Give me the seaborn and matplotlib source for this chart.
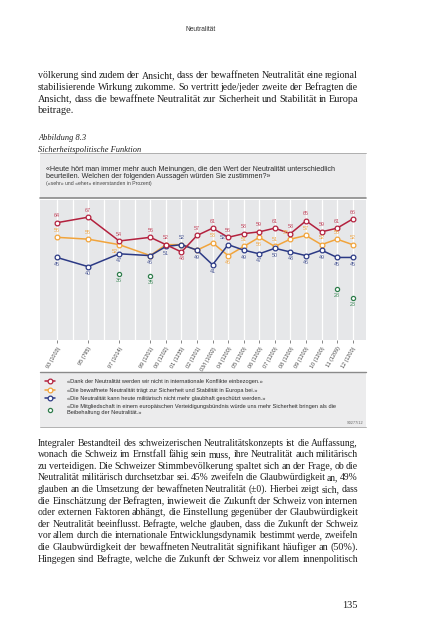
import numpy as np
import pandas as pd
import matplotlib
matplotlib.use("Agg")
import matplotlib.pyplot as plt
import seaborn as sns
from matplotlib.patches import Rectangle

# ---------------- data ----------------
years = [1993, 1995, 1997, 1999, 2000, 2001, 2002, 2003, 2004, 2005,
         2006, 2007, 2008, 2009, 2010, 2011, 2012]
tick_labels = ["93 (1003)", "95 (795)", "97 (1014)", "99 (1201)", "00 (1202)",
               "01 (1235)", "02 (1201)", "03/I (1002)", "04 (1200)", "05 (1200)",
               "06 (1200)", "07 (1200)", "08 (1200)", "09 (1200)", "10 (1200)",
               "11 (1209)", "12 (1200)"]
konflikte = [64, 67, 54, 56, 52, 48, 57, 61, 56, 58, 59, 61, 58, 65, 59, 61, 66]
sicherheit = [56, 55, 52, 46, 52, 52, 49, 53, 46, 51, 56, 51, 55, 57, 52, 55, 52]
nicht_glaubhaft = [45, 40, 47, 46, 51, 52, 49, 41, 52, 49, 47, 50, 48, 46, 49, 45, 45]
buendnis_years = [1997, 1999, 2011, 2012]
buendnis = [36, 35, 28, 23]

series_labels = [
    "«Dank der Neutralität werden wir nicht in internationale Konflikte einbezogen.»",
    "«Die bewaffnete Neutralität trägt zur Sicherheit und Stabilität in Europa bei.»",
    "«Die Neutralität kann heute militärisch nicht mehr glaubhaft geschützt werden.»",
    "«Die Mitgliedschaft in einem europäischen Verteidigungsbündnis würde uns mehr Sicherheit bringen als die\nBeibehaltung der Neutralität.»",
]

para1 = [
    "völkerung sind zudem der Ansicht, dass der bewaffneten Neutralität eine regional",
    "stabilisierende Wirkung zukomme. So vertritt jede/jeder zweite der Befragten die",
    "Ansicht, dass die bewaffnete Neutralität zur Sicherheit und Stabilität in Europa",
]
para1_last = "beitrage."
para2 = [
    "Integraler Bestandteil des schweizerischen Neutralitätskonzepts ist die Auffassung,",
    "wonach die Schweiz im Ernstfall fähig sein muss, ihre Neutralität auch militärisch",
    "zu verteidigen. Die Schweizer Stimmbevölkerung spaltet sich an der Frage, ob die",
    "Neutralität militärisch durchsetzbar sei. 45% zweifeln die Glaubwürdigkeit an, 49%",
    "glauben an die Umsetzung der bewaffneten Neutralität (±0). Hierbei zeigt sich, dass",
    "die Einschätzung der Befragten, inwieweit die Zukunft der Schweiz von internen",
    "oder externen Faktoren abhängt, die Einstellung gegenüber der Glaubwürdigkeit",
    "der Neutralität beeinflusst. Befragte, welche glauben, dass die Zukunft der Schweiz",
    "vor allem durch die internationale Entwicklungsdynamik bestimmt werde, zweifeln",
    "die Glaubwürdigkeit der bewaffneten Neutralität signifikant häufiger an (50%).",
    "Hingegen sind Befragte, welche die Zukunft der Schweiz vor allem innenpolitisch",
]

# ---------------- styling / layout ----------------
W, H = 435, 640
C_RED, C_ORA, C_BLU, C_GRN = "#b3213e", "#f1a43c", "#2c3a85", "#2f7d4b"
L_RED, L_ORA, L_BLU, L_GRN = "#c4485f", "#f0a848", "#4d5a96", "#3f8a5a"
BG_PLOT, BG_BOX = "#e6e7e9", "#ececed"
SERIF = "Liberation Serif"
SANS = "Liberation Sans"
TX0, TX1 = 38, 358
BODY = 7.5

# label placement codes (a = above, b = below, l = shifted left, None = hidden)
red_pos = ["a"] * 17
red_pos[5] = "b"
ora_pos = ["a", "a", "bl", None, None, None, None, "a", "b", "a", "b", "a",
           "al", "a", "a", "a", "a"]
blu_pos = ["b"] * 17
blu_pos[5] = "a"
blu_pos[8] = "al"

sns.set_theme(style="white")
plt.rcParams["font.family"] = [SANS, "DejaVu Sans"]

fig = plt.figure(figsize=(W / 100, H / 100), dpi=100)
fig.patch.set_facecolor("white")
renderer = fig.canvas.get_renderer()


def fx(px):
    return px / W


def fy(py):
    return 1 - py / H


def word_widths(words, size, style="normal"):
    out = []
    for w in words:
        t = fig.text(0, 0, w, fontsize=size, family=SERIF, style=style)
        out.append(t.get_window_extent(renderer).width)
        t.remove()
    return out


def text_line(s, y_px, size=None, justify=True, style="normal"):
    size = BODY if size is None else size
    if not justify:
        fig.text(fx(TX0), fy(y_px), s, fontsize=size, family=SERIF, style=style,
                 va="baseline", ha="left", color="#1e1e1e")
        return
    words = s.split(" ")
    # shrink this line slightly if its words would otherwise touch
    while True:
        widths = word_widths(words, size, style)
        gap = (TX1 - TX0 - sum(widths)) / max(len(words) - 1, 1)
        if gap >= 0.17 * size * 100 / 72 or size < 6.5:
            break
        size -= 0.05
    x = TX0
    for w, wd in zip(words, widths):
        fig.text(fx(x), fy(y_px), w, fontsize=size, family=SERIF, style=style,
                 va="baseline", ha="left", color="#1e1e1e")
        x += wd + gap


fig.text(fx(201), fy(31), "Neutralität", fontsize=4.8, family=SANS,
         ha="center", va="baseline", color="#333333")

for i, s in enumerate(para1):
    text_line(s, 78.5 + i * 11.6)
text_line(para1_last, 78.5 + 3 * 11.6, justify=False)

text_line("Abbildung 8.3", 139.5, size=6.0, justify=False, style="italic")
text_line("Sicherheitspolitische Funktion", 152, size=6.0, justify=False, style="italic")

for i, s in enumerate(para2):
    text_line(s, 445.5 + i * 11.6)

fig.text(fx(TX1), fy(607.5), "135", fontsize=BODY, family=SERIF, ha="right",
         va="baseline", color="#1e1e1e")

# ---------------- boxes ----------------
box_x0, box_x1 = 40, 365.7
fig.patches.append(Rectangle((fx(box_x0), fy(198)), fx(box_x1 - box_x0), (198 - 153) / H,
                             transform=fig.transFigure, facecolor=BG_BOX, edgecolor="none", zorder=-2))
fig.add_artist(plt.Line2D([fx(box_x0), fx(box_x1)], [fy(153.3), fy(153.3)],
                          transform=fig.transFigure, color="#a5a5a5", lw=0.6, zorder=-1))
fig.add_artist(plt.Line2D([fx(box_x0), fx(box_x1)], [fy(198.3), fy(198.3)],
                          transform=fig.transFigure, color="#8a8a8a", lw=1.2, zorder=-1))
fig.text(fx(46), fy(171), "«Heute hört man immer mehr auch Meinungen, die den Wert der Neutralität unterschiedlich",
         fontsize=5.15, family=SANS, va="baseline", color="#2a2a2a")
fig.text(fx(46), fy(178.5), "beurteilen. Welchen der folgenden Aussagen würden Sie zustimmen?»",
         fontsize=5.15, family=SANS, va="baseline", color="#2a2a2a")
fig.text(fx(46), fy(185), "(«sehr» und «eher» einverstanden in Prozent)",
         fontsize=3.7, family=SANS, va="baseline", color="#444444")

fig.patches.append(Rectangle((fx(box_x0), fy(426.7)), fx(box_x1 - box_x0), (426.7 - 371.7) / H,
                             transform=fig.transFigure, facecolor=BG_BOX, edgecolor="none", zorder=-2))
fig.add_artist(plt.Line2D([fx(box_x0), fx(box_x1)], [fy(371.7), fy(371.7)],
                          transform=fig.transFigure, color="#8a8a8a", lw=1.0, zorder=-1))
fig.add_artist(plt.Line2D([fx(box_x0), fx(box_x1)], [fy(426.7), fy(426.7)],
                          transform=fig.transFigure, color="#a5a5a5", lw=0.6, zorder=-1))
fig.text(fx(363), fy(424), "S0277/12", fontsize=2.8, family=SANS, ha="right",
         va="baseline", color="#666666")

# ---------------- chart ----------------
ax = fig.add_axes([fx(40), fy(339.8), fx(325.7), 139.8 / H])
ax.set_facecolor(BG_PLOT)

df = pd.DataFrame({"Jahr": years, "rot": konflikte, "orange": sicherheit, "blau": nicht_glaubhaft})
dfg = pd.DataFrame({"Jahr": buendnis_years, "gruen": buendnis})

common = dict(marker="o", markersize=3.4, markerfacecolor="white", markeredgewidth=0.9,
              linewidth=1.1, ax=ax)
sns.lineplot(data=df, x="Jahr", y="orange", color=C_ORA, markeredgecolor=C_ORA,
             label=series_labels[1], zorder=3, **common)
sns.lineplot(data=df, x="Jahr", y="blau", color=C_BLU, markeredgecolor=C_BLU,
             label=series_labels[2], zorder=4, **common)
sns.lineplot(data=df, x="Jahr", y="rot", color=C_RED, markeredgecolor=C_RED,
             label=series_labels[0], zorder=5, **common)
sns.scatterplot(data=dfg, x="Jahr", y="gruen", marker="o", s=9, facecolor="white",
                edgecolor=C_GRN, linewidth=0.9, label=series_labels[3], zorder=5, ax=ax)


def put_labels(xs, vals, pos, color):
    for x, v, p in zip(xs, vals, pos):
        if p is None:
            continue
        dy = 5.0 if p.startswith("a") else -5.0
        dx = -3.5 if "l" in p else 0
        ax.annotate(str(v), (x, v), xytext=(dx, dy), textcoords="offset points",
                    ha="center", va="center", fontsize=3.9, color=color, zorder=6)


put_labels(years, konflikte, red_pos, L_RED)
put_labels(years, sicherheit, ora_pos, L_ORA)
put_labels(years, nicht_glaubhaft, blu_pos, L_BLU)
put_labels(buendnis_years, buendnis, ["b"] * 4, L_GRN)

ax.set_xlim(1991.91, 2012.84)
ax.set_ylim(0, 76.4)
ax.set_yticks([])
ax.set_xticks(years)
ax.set_xticklabels(tick_labels, rotation=60, ha="right", rotation_mode="anchor")
ax.set_xticks(range(1993, 2013), minor=True)
ax.grid(which="both", axis="x", color="white", linewidth=0.9)
ax.set_axisbelow(True)
ax.tick_params(axis="x", which="major", length=2.5, width=0.5, color="#555555",
               pad=2, labelsize=3.9, labelcolor="#444444", bottom=True)
ax.tick_params(axis="x", which="minor", length=0)
ax.set_xlabel("")
ax.set_ylabel("")
for sp in ax.spines.values():
    sp.set_visible(False)

handles, labels = ax.get_legend_handles_labels()
order = [labels.index(l) for l in series_labels]
leg = fig.legend([handles[i] for i in order], [labels[i] for i in order],
                 loc="upper left", bbox_to_anchor=(fx(44.5), fy(379.3)),
                 frameon=False, fontsize=4.05,
                 borderpad=0, borderaxespad=0, handlelength=1.8, handletextpad=2.2,
                 labelspacing=0.6)
leg.set_zorder(5)
for t in leg.get_texts():
    t.set_color("#2a2a2a")
if ax.get_legend() is not None:
    ax.get_legend().remove()

fig.savefig("out.png", dpi=100)
